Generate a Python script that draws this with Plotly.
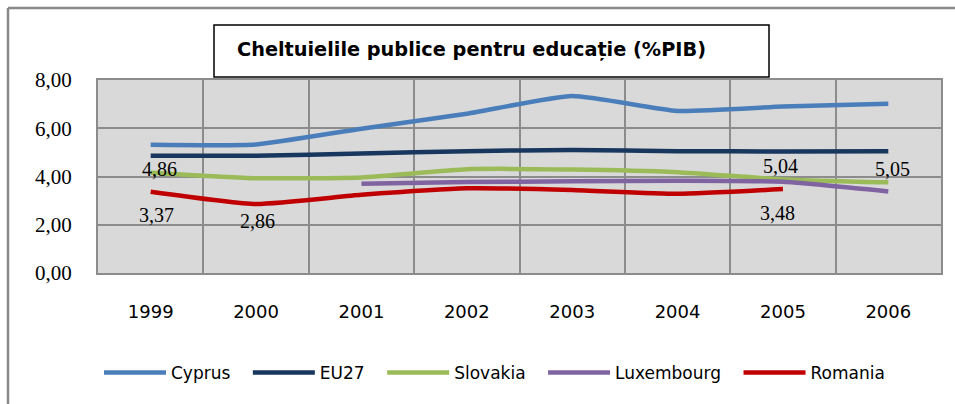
import plotly.graph_objects as go

years = ["1999", "2000", "2001", "2002", "2003", "2004", "2005", "2006"]
cyprus = [5.32, 5.33, 5.98, 6.60, 7.34, 6.72, 6.90, 7.02]
eu27 = [4.86, 4.86, 4.95, 5.05, 5.10, 5.05, 5.04, 5.05]
slovakia = [4.16, 3.93, 3.96, 4.30, 4.29, 4.18, 3.88, 3.76]
luxembourg = [None, None, 3.70, 3.77, 3.80, 3.82, 3.78, 3.38]
romania = [3.37, 2.86, 3.24, 3.51, 3.44, 3.28, 3.48, None]

series_names = ["Cyprus", "EU27", "Slovakia", "Luxembourg", "Romania"]
series_values = [cyprus, eu27, slovakia, luxembourg, romania]
colors = ["#4A7EBB", "#17375E", "#9BBB59", "#8064A2", "#C00000"]

# labelled points: (series index, year index)
labelled = [(1, 0), (1, 6), (1, 7), (4, 0), (4, 1), (4, 6)]
label_shift = [(9, -13), (-2, -15), (4, -18), (6, -23), (1, -17), (-5, -24)]

title_text = "Cheltuielile publice pentru educație (%PIB)"

W, H = 955, 404
ML, MR, MT, MB = 98, 14, 80, 131
PW, PH = W - ML - MR, H - MT - MB


def px(xp):
    return (xp - ML) / PW


def py(yp):
    return (H - MB - yp) / PH


fig = go.Figure()
for name, vals, col in zip(series_names, series_values, colors):
    fig.add_trace(go.Scatter(
        x=years, y=vals, name=name + "\u00a0\u00a0\u200a", mode="lines",
        line=dict(color=col, width=4.5, shape="spline", smoothing=0.5),
        connectgaps=False,
    ))

annotations = []
for (si, yi), (dx, dy) in zip(labelled, label_shift):
    v = series_values[si][yi]
    annotations.append(dict(
        x=yi, y=v, xref="x", yref="y", showarrow=False,
        text=f"{v:.2f}".replace(".", ","),
        xshift=dx, yshift=dy,
        font=dict(family="Liberation Serif", size=20, color="#000000"),
    ))

annotations.append(dict(
    x=px(235), y=py(49), xref="paper", yref="paper", xanchor="left", yanchor="middle",
    showarrow=False, text="<b>" + title_text + "</b>",
    font=dict(family="DejaVu Sans", size=19.3, color="#000000"),
))

border = dict(color="#898989", width=2.5)
shapes = [
    dict(type="line", xref="paper", yref="paper",
         x0=px(8), y0=py(8), x1=px(955), y1=py(8), line=border, layer="below"),
    dict(type="line", xref="paper", yref="paper",
         x0=px(8), y0=py(8), x1=px(8), y1=py(404), line=border, layer="below"),
    dict(type="rect", xref="paper", yref="paper",
         x0=px(214), y0=py(25), x1=px(769), y1=py(77),
         line=dict(color="#000000", width=1.5), fillcolor="#FFFFFF", layer="above"),
]

fig.update_layout(
    width=W, height=H,
    margin=dict(l=ML, r=MR, t=MT, b=MB, autoexpand=False),
    paper_bgcolor="#FFFFFF",
    plot_bgcolor="#D9D9D9",
    separators=", ",
    showlegend=True,
    legend=dict(
        orientation="h", x=px(99), y=py(373), xanchor="left", yanchor="middle",
        font=dict(family="DejaVu Sans", size=17, color="#000000"),
        itemwidth=62, tracegroupgap=0, bgcolor="rgba(0,0,0,0)",
    ),
    annotations=annotations,
    shapes=shapes,
    xaxis=dict(
        type="category", tickson="boundaries", showgrid=True,
        gridcolor="#8C8C8C", gridwidth=1.5,
        showline=True, linecolor="#8C8C8C", linewidth=2, mirror=True,
        ticks="", ticklabelstandoff=21,
        tickfont=dict(family="DejaVu Sans", size=18, color="#000000"),
        range=[-0.5, 7.5], fixedrange=True,
    ),
    yaxis=dict(
        range=[0, 8], dtick=2, tickformat=".2f", showgrid=True,
        gridcolor="#8C8C8C", gridwidth=1.5, zeroline=False,
        showline=True, linecolor="#8C8C8C", linewidth=2, mirror=True,
        ticks="", ticklabelstandoff=20,
        tickfont=dict(family="Liberation Serif", size=21, color="#000000"),
        fixedrange=True,
    ),
)

fig.write_html("out.html", config={"displayModeBar": False},
               post_script="document.body.style.margin='0';document.body.style.overflow='hidden';")
